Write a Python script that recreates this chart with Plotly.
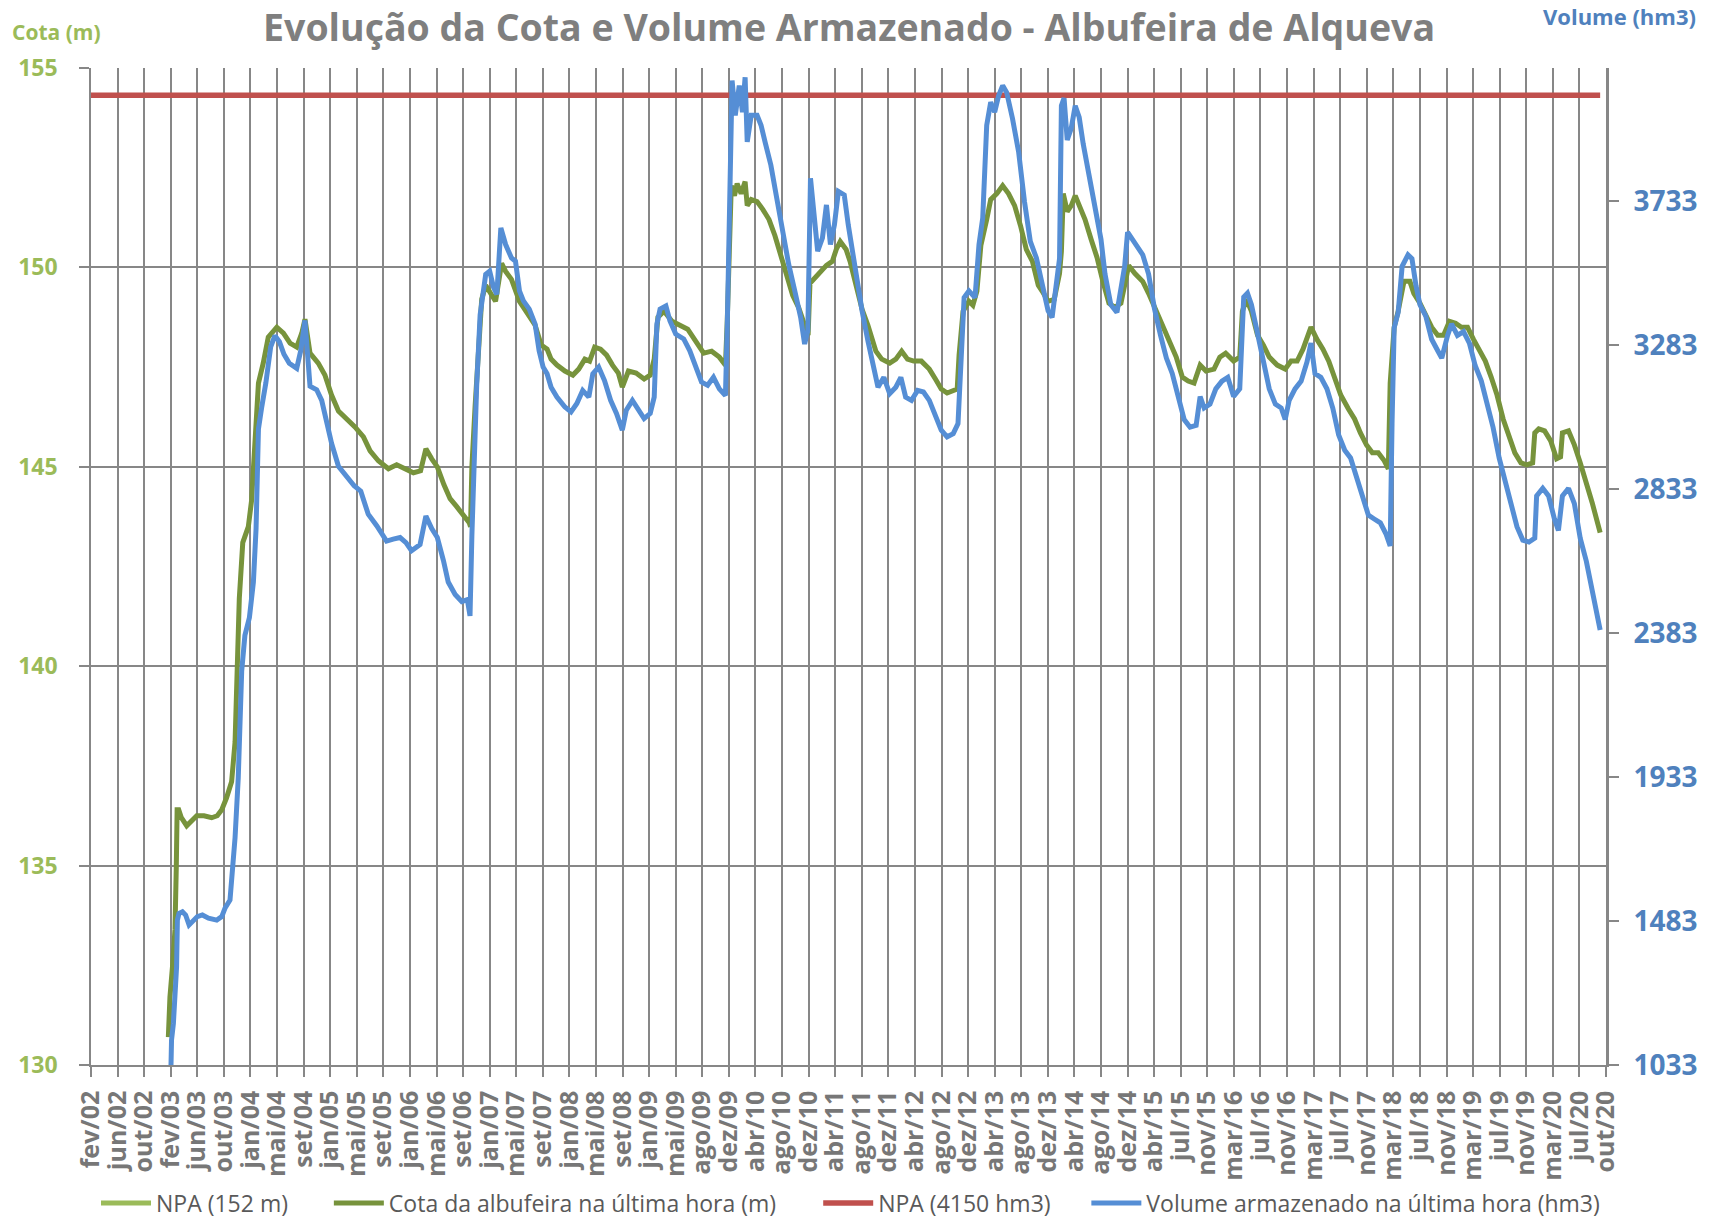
import plotly.graph_objects as go

# etiquetas do eixo das datas (uma por marca, eixo de categorias)
meses = ["fev/02", "jun/02", "out/02", "fev/03", "jun/03", "out/03", "jan/04", "mai/04", "set/04",
         "jan/05", "mai/05", "set/05", "jan/06", "mai/06", "set/06", "jan/07", "mai/07", "set/07",
         "jan/08", "mai/08", "set/08", "jan/09", "mai/09", "ago/09", "dez/09", "abr/10", "ago/10",
         "dez/10", "abr/11", "ago/11", "dez/11", "abr/12", "ago/12", "dez/12", "abr/13", "ago/13",
         "dez/13", "abr/14", "ago/14", "dez/14", "abr/15", "jul/15", "nov/15", "mar/16", "jul/16",
         "nov/16", "mar/17", "jul/17", "nov/17", "mar/18", "jul/18", "nov/18", "mar/19", "jul/19",
         "nov/19", "mar/20", "jul/20", "out/20"]

# posição de cada leitura no eixo das categorias (1 = uma marca)
cota_pos = [2.91, 2.97, 3.07, 3.16, 3.21, 3.24, 3.30, 3.40, 3.60, 3.80, 3.98, 4.25, 4.54, 4.75, 4.92,
            5.10, 5.29, 5.42, 5.51, 5.58, 5.71, 5.92, 6.04, 6.13, 6.21, 6.30, 6.48, 6.67, 6.99, 7.24,
            7.49, 7.74, 7.93, 8.05, 8.24, 8.55, 8.80, 9.05, 9.31, 9.62, 9.93, 10.25, 10.50, 10.81,
            11.19, 11.50, 11.81, 12.13, 12.40, 12.60, 12.82, 13.03, 13.28, 13.51, 13.76, 14.01,
            14.23, 14.28, 14.33, 14.45, 14.57, 14.70, 14.85, 15.00, 15.22, 15.45, 15.60, 15.82,
            16.12, 16.27, 16.49, 16.71, 16.94, 17.16, 17.31, 17.53, 17.83, 18.13, 18.35, 18.58,
            18.76, 18.95, 19.17, 19.40, 19.62, 19.84, 19.99, 20.22, 20.51, 20.81, 21.04, 21.19,
            21.33, 21.56, 21.86, 22.15, 22.45, 22.75, 23.05, 23.35, 23.64, 23.87, 23.94, 24.09,
            24.21, 24.31, 24.46, 24.61, 24.69, 24.84, 25.06, 25.28, 25.51, 25.73, 25.95, 26.18,
            26.40, 26.62, 26.85, 26.98, 27.05, 27.20, 27.44, 27.67, 27.89, 28.04, 28.19, 28.41,
            28.56, 28.79, 29.01, 29.23, 29.53, 29.75, 30.05, 30.28, 30.50, 30.72, 30.95, 31.24,
            31.54, 31.77, 31.99, 32.21, 32.44, 32.59, 32.66, 32.81, 33.03, 33.18, 33.33, 33.48,
            33.70, 33.85, 34.08, 34.30, 34.52, 34.75, 34.97, 35.19, 35.42, 35.64, 35.79, 36.01,
            36.24, 36.44, 36.51, 36.58, 36.73, 36.88, 37.03, 37.18, 37.40, 37.63, 37.85, 38.07,
            38.30, 38.52, 38.75, 38.89, 39.04, 39.27, 39.57, 39.79, 40.01, 40.31, 40.61, 40.83,
            41.06, 41.28, 41.50, 41.73, 41.95, 42.25, 42.47, 42.69, 42.99, 43.22, 43.32, 43.47,
            43.66, 43.89, 44.11, 44.33, 44.63, 44.93, 45.15, 45.38, 45.60, 45.90, 46.12, 46.35,
            46.57, 46.79, 47.02, 47.31, 47.54, 47.76, 47.99, 48.21, 48.43, 48.66, 48.81, 48.88,
            49.03, 49.18, 49.40, 49.62, 49.77, 50.00, 50.22, 50.44, 50.67, 50.89, 51.11, 51.34,
            51.56, 51.79, 52.01, 52.23, 52.46, 52.68, 52.90, 53.13, 53.35, 53.57, 53.80, 54.02,
            54.24, 54.32, 54.47, 54.69, 54.92, 55.14, 55.29, 55.36, 55.59, 55.81, 56.03, 56.26,
            56.48, 56.78]
cota_m = [130.7, 131.7, 132.5, 133.4, 135.0, 136.4, 136.4, 136.2, 136.0, 136.15, 136.25, 136.25, 136.2,
          136.25, 136.4, 136.7, 137.1, 138.1, 139.9, 141.7, 143.1, 143.5, 144.15, 145.2, 146.1, 147.1,
          147.6, 148.25, 148.5, 148.35, 148.1, 148.0, 148.35, 148.7, 147.85, 147.6, 147.3, 146.8,
          146.4, 146.2, 146.0, 145.75, 145.4, 145.15, 144.95, 145.05, 144.95, 144.85, 144.9, 145.45,
          145.2, 145.0, 144.55, 144.2, 144.0, 143.8, 143.6, 143.5, 145.0, 146.5, 147.9, 149.2,
          149.55, 149.4, 149.15, 150.1, 149.9, 149.7, 149.15, 149.0, 148.8, 148.55, 148.05, 147.95,
          147.7, 147.55, 147.4, 147.3, 147.45, 147.7, 147.65, 148.0, 147.95, 147.8, 147.55, 147.35,
          147.0, 147.4, 147.35, 147.2, 147.3, 147.7, 148.75, 148.9, 148.65, 148.55, 148.45, 148.15,
          147.85, 147.9, 147.75, 147.55, 148.7, 152.05, 151.8, 152.1, 151.85, 152.15, 151.55, 151.7,
          151.65, 151.45, 151.2, 150.8, 150.3, 149.7, 149.3, 149.0, 148.5, 148.3, 149.6, 149.7,
          149.9, 150.05, 150.15, 150.45, 150.65, 150.45, 150.15, 149.55, 148.95, 148.55, 147.9,
          147.7, 147.6, 147.7, 147.9, 147.7, 147.65, 147.65, 147.45, 147.2, 146.95, 146.85, 146.9,
          146.95, 147.8, 148.9, 149.15, 149.05, 149.4, 150.55, 151.2, 151.7, 151.85, 152.05, 151.85,
          151.55, 151.05, 150.45, 150.15, 149.55, 149.4, 149.15, 149.2, 149.85, 150.4, 151.85,
          151.4, 151.55, 151.8, 151.55, 151.2, 150.7, 150.25, 149.65, 149.1, 149.0, 149.1, 149.55,
          150.05, 149.85, 149.65, 149.35, 149.0, 148.5, 148.1, 147.75, 147.25, 147.15, 147.1,
          147.55, 147.4, 147.45, 147.75, 147.85, 147.65, 147.75, 148.9, 149.2, 148.9, 148.3,
          148.05, 147.75, 147.55, 147.45, 147.65, 147.65, 147.95, 148.5, 148.2, 147.95, 147.65,
          147.25, 146.8, 146.45, 146.2, 145.85, 145.55, 145.35, 145.35, 145.15, 144.95, 147.1,
          148.5, 148.9, 149.65, 149.65, 149.35, 149.1, 148.8, 148.5, 148.3, 148.3, 148.65, 148.6,
          148.5, 148.5, 148.2, 147.95, 147.65, 147.25, 146.8, 146.2, 145.75, 145.35, 145.1, 145.05,
          145.1, 145.85, 145.95, 145.9, 145.65, 145.2, 145.25, 145.85, 145.9, 145.55, 145.1, 144.6,
          144.1, 143.35]

volume_pos = [3.01, 3.03, 3.10, 3.16, 3.22, 3.25, 3.31, 3.44, 3.56, 3.69, 3.81, 4.00, 4.19, 4.42, 4.73,
              4.92, 5.04, 5.23, 5.42, 5.54, 5.67, 5.79, 5.96, 6.11, 6.21, 6.30, 6.42, 6.58, 6.76, 6.92,
              7.09, 7.26, 7.46, 7.74, 7.89, 8.05, 8.24, 8.49, 8.68, 8.87, 9.05, 9.31, 9.62, 9.90,
              10.15, 10.43, 10.75, 11.12, 11.37, 11.63, 11.85, 12.06, 12.38, 12.60, 12.82, 13.03,
              13.26, 13.44, 13.70, 13.95, 14.16, 14.26, 14.33, 14.41, 14.51, 14.64, 14.76, 14.85,
              15.00, 15.15, 15.27, 15.33, 15.42, 15.60, 15.82, 15.97, 16.12, 16.27, 16.49, 16.71,
              16.86, 17.01, 17.16, 17.31, 17.53, 17.83, 18.06, 18.28, 18.50, 18.73, 18.88, 19.10,
              19.32, 19.55, 19.77, 19.99, 20.14, 20.37, 20.59, 20.81, 21.04, 21.19, 21.29, 21.41,
              21.63, 21.78, 22.00, 22.30, 22.53, 22.75, 22.97, 23.20, 23.42, 23.64, 23.87, 23.94,
              24.06, 24.12, 24.24, 24.39, 24.51, 24.61, 24.69, 24.84, 25.06, 25.21, 25.36, 25.58,
              25.80, 26.03, 26.25, 26.48, 26.70, 26.85, 26.97, 27.07, 27.19, 27.34, 27.52, 27.67,
              27.82, 27.97, 28.12, 28.34, 28.49, 28.64, 28.86, 29.01, 29.23, 29.46, 29.61, 29.83,
              30.05, 30.28, 30.47, 30.65, 30.87, 31.10, 31.32, 31.54, 31.77, 31.99, 32.21, 32.44,
              32.62, 32.73, 32.85, 33.03, 33.26, 33.41, 33.55, 33.70, 33.85, 34.00, 34.15, 34.30,
              34.45, 34.67, 34.90, 35.12, 35.34, 35.57, 35.79, 36.01, 36.16, 36.31, 36.44, 36.51,
              36.61, 36.73, 36.88, 37.03, 37.18, 37.33, 37.55, 37.78, 38.00, 38.15, 38.37, 38.60,
              38.75, 38.89, 39.00, 39.19, 39.34, 39.57, 39.79, 40.01, 40.24, 40.46, 40.68, 40.91,
              41.13, 41.35, 41.58, 41.73, 41.88, 42.10, 42.32, 42.55, 42.77, 42.99, 43.22, 43.37,
              43.51, 43.66, 43.89, 44.11, 44.33, 44.56, 44.78, 44.93, 45.08, 45.30, 45.53, 45.75,
              45.90, 46.05, 46.27, 46.50, 46.72, 46.94, 47.17, 47.39, 47.61, 47.84, 48.06, 48.28,
              48.51, 48.73, 48.88, 48.95, 49.03, 49.18, 49.33, 49.55, 49.70, 49.85, 50.00, 50.22,
              50.44, 50.67, 50.82, 51.04, 51.19, 51.41, 51.64, 51.86, 52.08, 52.31, 52.53, 52.75,
              52.98, 53.20, 53.42, 53.65, 53.87, 54.10, 54.32, 54.39, 54.62, 54.84, 55.06, 55.21,
              55.36, 55.59, 55.81, 56.03, 56.26, 56.48, 56.63, 56.78]
volume_hm3 = [1033, 1111, 1163, 1247, 1340, 1486, 1507, 1512, 1502, 1471, 1481, 1497, 1502, 1492, 1486,
              1497, 1523, 1549, 1744, 1931, 2265, 2376, 2432, 2543, 2710, 3022, 3088, 3166, 3278, 3313,
              3294, 3255, 3227, 3211, 3266, 3361, 3155, 3144, 3111, 3044, 2977, 2905, 2871, 2844,
              2827, 2755, 2719, 2671, 2677, 2682, 2666, 2641, 2660, 2749, 2710, 2682, 2610, 2543,
              2504, 2482, 2488, 2437, 2688, 2933, 3155, 3378, 3470, 3505, 3515, 3463, 3442, 3536,
              3650, 3598, 3556, 3546, 3453, 3422, 3396, 3349, 3266, 3215, 3194, 3152, 3121, 3090,
              3075, 3101, 3142, 3121, 3194, 3215, 3173, 3111, 3070, 3018, 3080, 3111, 3080, 3054,
              3070, 3121, 3349, 3396, 3406, 3360, 3318, 3303, 3266, 3220, 3168, 3158, 3183, 3147,
              3126, 3349, 3867, 4111, 4002, 4095, 4012, 4121, 3919, 4002, 4002, 3971, 3919, 3846,
              3743, 3629, 3536, 3453, 3370, 3287, 3329, 3805, 3691, 3577, 3619, 3722, 3598, 3660,
              3764, 3753, 3660, 3577, 3474, 3391, 3297, 3204, 3152, 3183, 3132, 3152, 3183, 3121,
              3111, 3142, 3137, 3111, 3059, 3018, 2997, 3007, 3038, 3246, 3432, 3453, 3432, 3598,
              3681, 3971, 4043, 4012, 4064, 4095, 4074, 3992, 3888, 3733, 3608, 3556, 3474, 3391,
              3370, 3474, 3554, 4032, 4056, 3925, 3961, 4032, 3996, 3913, 3817, 3721, 3614, 3506,
              3410, 3386, 3458, 3530, 3637, 3614, 3590, 3566, 3506, 3398, 3314, 3243, 3195, 3123,
              3051, 3027, 3033, 3123, 3087, 3099, 3147, 3171, 3183, 3123, 3147, 3434, 3446, 3410,
              3314, 3231, 3147, 3099, 3087, 3051, 3111, 3147, 3171, 3231, 3290, 3195, 3183, 3147,
              3087, 3003, 2955, 2931, 2871, 2812, 2752, 2740, 2728, 2692, 2656, 3039, 3338, 3386,
              3530, 3566, 3554, 3470, 3410, 3374, 3302, 3266, 3243, 3314, 3350, 3314, 3326, 3290,
              3219, 3171, 3099, 3027, 2931, 2860, 2788, 2716, 2674, 2668, 2680, 2812, 2836, 2812,
              2740, 2704, 2812, 2836, 2788, 2680, 2608, 2524, 2453, 2393]

# linha NPA desenhada no eixo do volume
npa_pos = [0, 56.78]
npa_hm3 = [4065, 4065]

GRID = "#878787"
FONT = "Open Sans"

fig = go.Figure()

fig.add_trace(go.Scatter(
    x=[None], y=[None], mode="lines", name="NPA (152 m)", legend="legend",
    line=dict(color="#9BBB59", width=5)
))
fig.add_trace(go.Scatter(
    x=cota_pos, y=cota_m, mode="lines", name="Cota da albufeira na última hora (m)", legend="legend2",
    line=dict(color="#77933C", width=5)
))
fig.add_trace(go.Scatter(
    x=npa_pos, y=npa_hm3, mode="lines", name="NPA (4150 hm3)", yaxis="y2", legend="legend3",
    line=dict(color="#C0504D", width=5.5)
))
fig.add_trace(go.Scatter(
    x=volume_pos, y=volume_hm3, mode="lines", name="Volume armazenado na última hora (hm3)",
    yaxis="y2", legend="legend4",
    line=dict(color="#558ED5", width=5)
))

leg = dict(orientation="h", y=-0.1385, yanchor="middle", xanchor="left", itemwidth=50,
           font=dict(family=FONT, size=23, color="#595959"), bgcolor="rgba(0,0,0,0)")

fig.update_layout(
    width=1716,
    height=1220,
    margin=dict(l=91, r=110, t=68, b=155, autoexpand=False),
    paper_bgcolor="white",
    plot_bgcolor="white",
    font=dict(family=FONT, color="#595959"),
    title=dict(
        text="Evolução da Cota e Volume Armazenado - Albufeira de Alqueva",
        x=0.4948, xanchor="center", y=0.9770, yanchor="middle",
        font=dict(family=FONT, size=37.5, color="#7F7F7F", weight="bold")
    ),
    xaxis=dict(
        range=[0, 57],
        tickmode="array",
        tickvals=list(range(len(meses))),
        ticktext=meses,
        tickangle=-90,
        tickfont=dict(family=FONT, size=25, color="#777777", weight="bold"),
        showgrid=True, gridcolor=GRID, gridwidth=1.5,
        showline=True, linecolor=GRID, linewidth=1.5,
        ticks="outside", ticklen=10, tickcolor=GRID, tickwidth=1.5,
        ticklabelstandoff=4,
        zeroline=False, automargin=False
    ),
    yaxis=dict(
        range=[130, 155],
        tick0=130, dtick=5,
        tickfont=dict(family=FONT, size=23, color="#9BBB59", weight="bold"),
        showgrid=True, gridcolor=GRID, gridwidth=1.5,
        showline=True, linecolor=GRID, linewidth=1.5,
        ticks="outside", ticklen=10, tickcolor=GRID, tickwidth=1.5,
        ticklabelstandoff=17,
        zeroline=False, automargin=False
    ),
    yaxis2=dict(
        range=[1033, 4150],
        tick0=1033, dtick=450,
        overlaying="y", side="right",
        tickfont=dict(family=FONT, size=28, color="#4F81BD", weight="bold"),
        showgrid=False,
        showline=True, linecolor=GRID, linewidth=3,
        ticks="outside", ticklen=10, tickcolor=GRID, tickwidth=1.5,
        ticklabelstandoff=9,
        zeroline=False, automargin=False
    ),
    legend=dict(leg, x=0.0033),
    legend2=dict(leg, x=0.157),
    legend3=dict(leg, x=0.480),
    legend4=dict(leg, x=0.657),
    showlegend=True
)

fig.add_annotation(
    text="Cota (m)", xref="paper", yref="paper", x=-0.023, y=1.036,
    xanchor="center", yanchor="middle", showarrow=False,
    font=dict(family=FONT, size=21, color="#9BBB59", weight="bold")
)
fig.add_annotation(
    text="Volume (hm3)", xref="paper", yref="paper", x=1.009, y=1.052,
    xanchor="center", yanchor="middle", showarrow=False,
    font=dict(family=FONT, size=22, color="#4F81BD", weight="bold")
)

# a página por omissão tem margem de 8px no body; retirar para o gráfico ocupar a janela toda
fig.write_html("out.html", config={"displayModeBar": False},
               post_script="document.body.style.margin='0';")
